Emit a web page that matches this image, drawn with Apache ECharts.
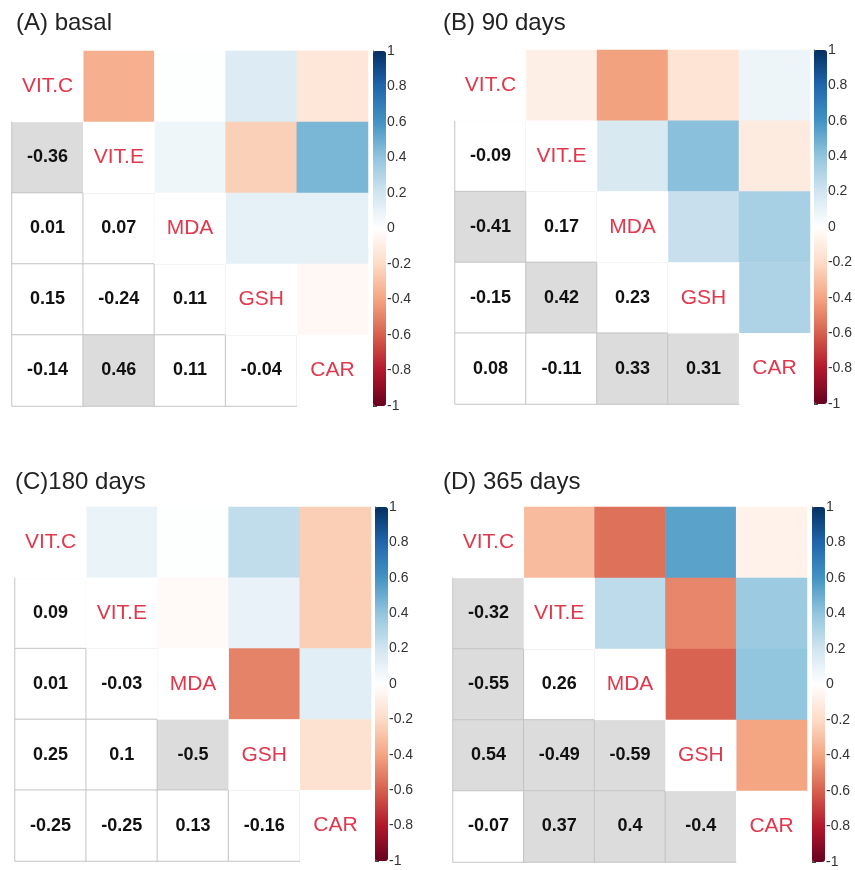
<!DOCTYPE html>
<html>
<head>
<meta charset="utf-8">
<script src="https://cdn.jsdelivr.net/npm/echarts@6/dist/echarts.min.js"></script>
<style>
  html, body { margin: 0; padding: 0; background: #fff; }
  #chart { width: 855px; height: 870px; }
</style>
</head>
<body>
<div id="chart"></div>
<script>
// variables (rows/cols of every matrix)
const vars = ['VIT.C', 'VIT.E', 'MDA', 'GSH', 'CAR'];
const panelTitles = ['(A) basal', '(B) 90 days', '(C)180 days', '(D) 365 days'];

// lower triangle, order: (E,C) (MDA,C) (MDA,E) (GSH,C) (GSH,E) (GSH,MDA) (CAR,C) (CAR,E) (CAR,MDA) (CAR,GSH)
const corrBasal = [-0.36, 0.01, 0.07, 0.15, -0.24, 0.11, -0.14, 0.46, 0.11, -0.04];
const corr90 = [-0.09, -0.41, 0.17, -0.15, 0.42, 0.23, 0.08, -0.11, 0.33, 0.31];
const corr180 = [0.09, 0.01, -0.03, 0.25, 0.1, -0.5, -0.25, -0.25, 0.13, -0.16];
const corr365 = [-0.32, -0.55, 0.26, 0.54, -0.49, -0.59, -0.07, 0.37, 0.4, -0.4];

// grey shaded (significant) cells, same order
const sigBasal = [1, 0, 0, 0, 0, 0, 0, 1, 0, 0];
const sig90 = [0, 1, 0, 0, 1, 0, 0, 0, 1, 1];
const sig180 = [0, 0, 0, 0, 0, 1, 0, 0, 0, 0];
const sig365 = [1, 1, 0, 1, 1, 1, 0, 1, 1, 1];

// colour bar ticks
const barTicks = [1, 0.8, 0.6, 0.4, 0.2, 0, -0.2, -0.4, -0.6, -0.8, -1];

const corrSets = [corrBasal, corr90, corr180, corr365];
const sigSets = [sigBasal, sig90, sig180, sig365];

const rdbu = ['#67001F', '#B2182B', '#D6604D', '#F4A582', '#FDDBC7', '#FFFFFF',
              '#D1E5F0', '#92C5DE', '#4393C3', '#2166AC', '#053061'];
const font = 'Liberation Sans, Arial, sans-serif';

// panel layout
const panels = [
  {grid: {left: 12, top: 51, width: 356, height: 355}, bar: {left: 373, top: 51, width: 13, height: 355}, title: {left: 16, top: 11}},
  {grid: {left: 455, top: 50, width: 355, height: 354}, bar: {left: 814, top: 50, width: 13, height: 354}, title: {left: 443, top: 11}},
  {grid: {left: 15, top: 507, width: 356, height: 354}, bar: {left: 375, top: 507, width: 13, height: 354}, title: {left: 15, top: 470}},
  {grid: {left: 453, top: 507, width: 354, height: 355}, bar: {left: 812, top: 507, width: 13, height: 355}, title: {left: 443, top: 470}}
];

const chart = echarts.init(document.getElementById('chart'));

const grids = [], xAxes = [], yAxes = [], series = [], visualMaps = [], titles = [];

panels.forEach((p, k) => {
  const corr = corrSets[k];
  const sig = sigSets[k];
  const upper = [], lower = [], diag = [];
  let n = 0;
  for (let r = 1; r < vars.length; r++) {
    for (let c = 0; c < r; c++) {
      lower.push({
        value: [c, r, corr[n]],
        itemStyle: {color: sig[n] ? '#dcdcdc' : '#ffffff'}
      });
      upper.push([r, c, corr[n]]);
      n++;
    }
  }
  vars.forEach((v, i) => diag.push([i, i, 0]));

  grids.push(p.grid);
  xAxes.push({type: 'category', data: vars, gridIndex: k, show: false});
  yAxes.push({type: 'category', data: vars, gridIndex: k, show: false, inverse: true});

  titles.push({
    text: panelTitles[k], left: p.title.left, top: p.title.top, padding: 0,
    textStyle: {fontFamily: font, fontSize: 24, fontWeight: 'normal', color: '#222'}
  });

  series.push({
    type: 'heatmap', xAxisIndex: k, yAxisIndex: k, data: upper,
    itemStyle: {borderWidth: 0},
    emphasis: {disabled: true}
  });
  series.push({
    type: 'heatmap', xAxisIndex: k, yAxisIndex: k, data: lower,
    itemStyle: {borderColor: '#c4c4c4', borderWidth: 1},
    label: {
      show: true, fontFamily: font, fontSize: 18, fontWeight: 'bold', color: '#111',
      formatter: d => String(d.value[2])
    },
    emphasis: {disabled: true}
  });
  series.push({
    type: 'heatmap', xAxisIndex: k, yAxisIndex: k, data: diag,
    itemStyle: {color: '#ffffff'},
    label: {
      show: true, fontFamily: font, fontSize: 21, color: '#e0384c',
      formatter: d => vars[d.value[0]]
    },
    emphasis: {disabled: true}
  });

  visualMaps.push({
    type: 'continuous', min: -1, max: 1, seriesIndex: 3 * k,
    calculable: false, hoverLink: false, padding: 0,
    left: p.bar.left, top: p.bar.top,
    itemWidth: p.bar.width, itemHeight: p.bar.height,
    inRange: {color: rdbu}
  });
});

// colour bar axes
panels.forEach((p, k) => {
  const gi = 4 + k;
  grids.push({left: p.bar.left, top: p.bar.top, width: p.bar.width, height: p.bar.height});
  xAxes.push({type: 'value', gridIndex: gi, show: false, min: 0, max: 1});
  yAxes.push({
    type: 'value', gridIndex: gi, position: 'right', min: -1, max: 1, interval: 0.2,
    axisLine: {show: true, lineStyle: {color: '#444', width: 1}},
    axisTick: {show: true, length: 4, lineStyle: {color: '#444'}},
    splitLine: {show: false},
    axisLabel: {
      fontFamily: font, fontSize: 14, color: '#333', margin: 1,
      formatter: v => barTicks.find(t => Math.abs(t - v) < 1e-6) !== undefined ? String(Math.round(v * 10) / 10) : ''
    }
  });
});

chart.setOption({
  animation: false,
  backgroundColor: '#ffffff',
  title: titles,
  grid: grids,
  xAxis: xAxes,
  yAxis: yAxes,
  visualMap: visualMaps,
  series: series
});
</script>
</body>
</html>
